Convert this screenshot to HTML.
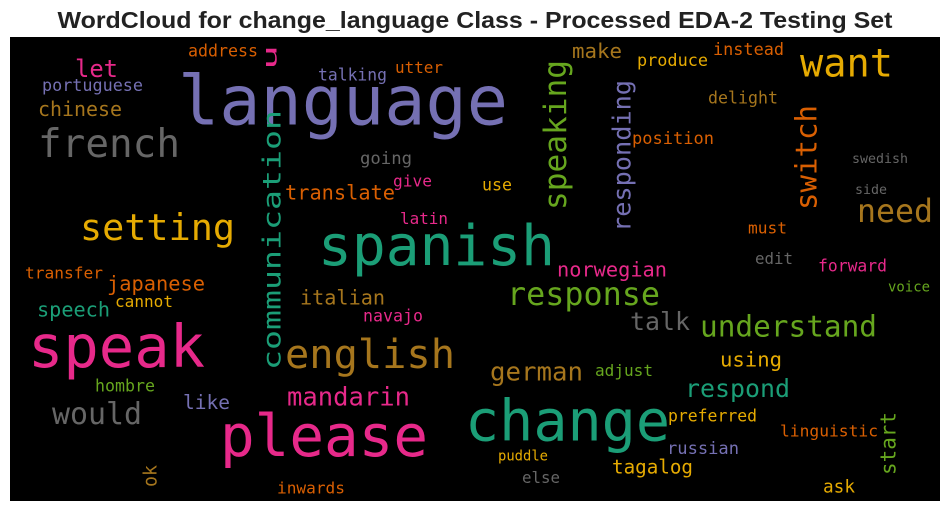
<!DOCTYPE html>
<html><head><meta charset="utf-8"><style>
html,body{margin:0;padding:0;background:#fff;width:950px;height:511px;overflow:hidden}
svg{display:block}
</style></head><body>
<svg id="wc" width="950" height="511" xmlns="http://www.w3.org/2000/svg">
<text x="475" y="28" text-anchor="middle" font-family="Liberation Sans, Arial, sans-serif" font-weight="bold" font-size="23" fill="#222" textLength="835" lengthAdjust="spacingAndGlyphs">WordCloud for change_language Class - Processed EDA-2 Testing Set</text>
<rect x="10" y="37" width="930" height="464" fill="#000"/>
<g id="words"></g>
</svg>
<script>
const words = ["language","spanish","speak","please","change","french","english","setting","want","response","understand","need","would","switch","speaking","responding","communication","u","let","mandarin","german","respond","talk","translate","italian","japanese","speech","chinese","portuguese","address","talking","utter","make","produce","instead","delight","position","going","give","use","swedish","side","latin","must","edit","forward","voice","norwegian","transfer","cannot","navajo","using","adjust","like","hombre","preferred","linguistic","start","russian","tagalog","puddle","else","ask","inwards","ok"];
const colors = ["#7570b3","#1b9e77","#e7298a","#e7298a","#1b9e77","#666666","#a6761d","#e6ab02","#e6ab02","#66a61e","#66a61e","#a6761d","#666666","#d95f02","#66a61e","#7570b3","#1b9e77","#e7298a","#e7298a","#e7298a","#a6761d","#1b9e77","#666666","#d95f02","#a6761d","#d95f02","#1b9e77","#a6761d","#7570b3","#d95f02","#7570b3","#d95f02","#a6761d","#e6ab02","#d95f02","#a6761d","#d95f02","#666666","#e7298a","#e6ab02","#666666","#666666","#e7298a","#d95f02","#666666","#e7298a","#66a61e","#e7298a","#d95f02","#e6ab02","#e7298a","#e6ab02","#66a61e","#7570b3","#66a61e","#e6ab02","#d95f02","#66a61e","#7570b3","#e6ab02","#e6ab02","#666666","#e6ab02","#d95f02","#a6761d"];
// layout boxes: [x0, y0, x1, y1, vertical]
const boxes = [[178,72,508,140,0],[318,222,555,280,0],[28,322,205,380,0],[220,412,428,465,0],[465,397,670,450,0],[38,127,180,165,0],[285,337,455,375,0],[80,212,235,250,0],[800,47,893,80,0],[507,281,660,310,0],[700,314,877,343,0],[857,198,933,225,0],[52,401,142,425,0],[795,105,825,210,1],[543,60,575,210,1],[612,80,635,232,1],[262,110,285,370,1],[262,45,280,70,1],[75,59,118,82,0],[287,386,410,410,0],[490,361,583,385,0],[685,378,790,402,0],[630,311,690,333,0],[285,184,395,203,0],[300,289,385,305,0],[107,275,205,292,0],[37,301,110,320,0],[38,101,122,118,0],[42,78,143,92,0],[188,44,258,58,0],[318,68,387,83,0],[395,61,443,75,0],[572,42,622,60,0],[637,53,708,67,0],[713,42,784,57,0],[708,91,778,106,0],[632,131,714,146,0],[360,151,412,168,0],[393,174,432,187,0],[482,178,512,191,0],[852,153,908,166,0],[855,184,887,197,0],[400,212,448,226,0],[748,221,787,234,0],[755,252,793,266,0],[818,259,887,273,0],[888,281,930,295,0],[557,261,667,278,0],[25,266,103,280,0],[115,295,173,309,0],[363,309,423,323,0],[720,351,782,368,0],[595,364,653,378,0],[183,394,230,410,0],[95,379,155,393,0],[668,409,757,423,0],[780,424,878,440,0],[880,412,900,475,1],[667,441,739,458,0],[612,459,693,478,0],[498,450,548,463,0],[522,471,560,485,0],[823,479,855,493,0],[277,481,345,495,0],[143,465,160,487,1]];
const g = document.getElementById('words');
const NS = 'http://www.w3.org/2000/svg';
words.forEach((w, i) => {
  const [x0, y0, x1, y1, v] = boxes[i];
  const t = document.createElementNS(NS, 'text');
  
  
  t.setAttribute('font-family', 'DejaVu Sans Mono, Liberation Mono, monospace');
  t.setAttribute('fill', colors[i]);
  t.setAttribute('lengthAdjust', 'spacingAndGlyphs');
  if (!v) {
    const len = x1 - x0;
    const size = len / w.length / 0.6;
    t.setAttribute('font-size', size.toFixed(1));
    t.setAttribute('x', x0);
    t.setAttribute('y', (y0 + 0.76 * size).toFixed(1));
    t.setAttribute('textLength', len);
  } else {
    const len = y1 - y0;
    const size = Math.min(len / w.length / 0.6, (x1 - x0) * 1.1);
    t.setAttribute('font-size', size.toFixed(1));
    const bx = x0 + 0.74 * size;
    t.setAttribute('x', 0);
    t.setAttribute('y', 0);
    t.setAttribute('transform', 'translate(' + bx.toFixed(1) + ',' + y1 + ') rotate(-90)');
    t.setAttribute('textLength', len);
  }
  t.textContent = w;
  g.appendChild(t);
});
</script>
</body></html>
